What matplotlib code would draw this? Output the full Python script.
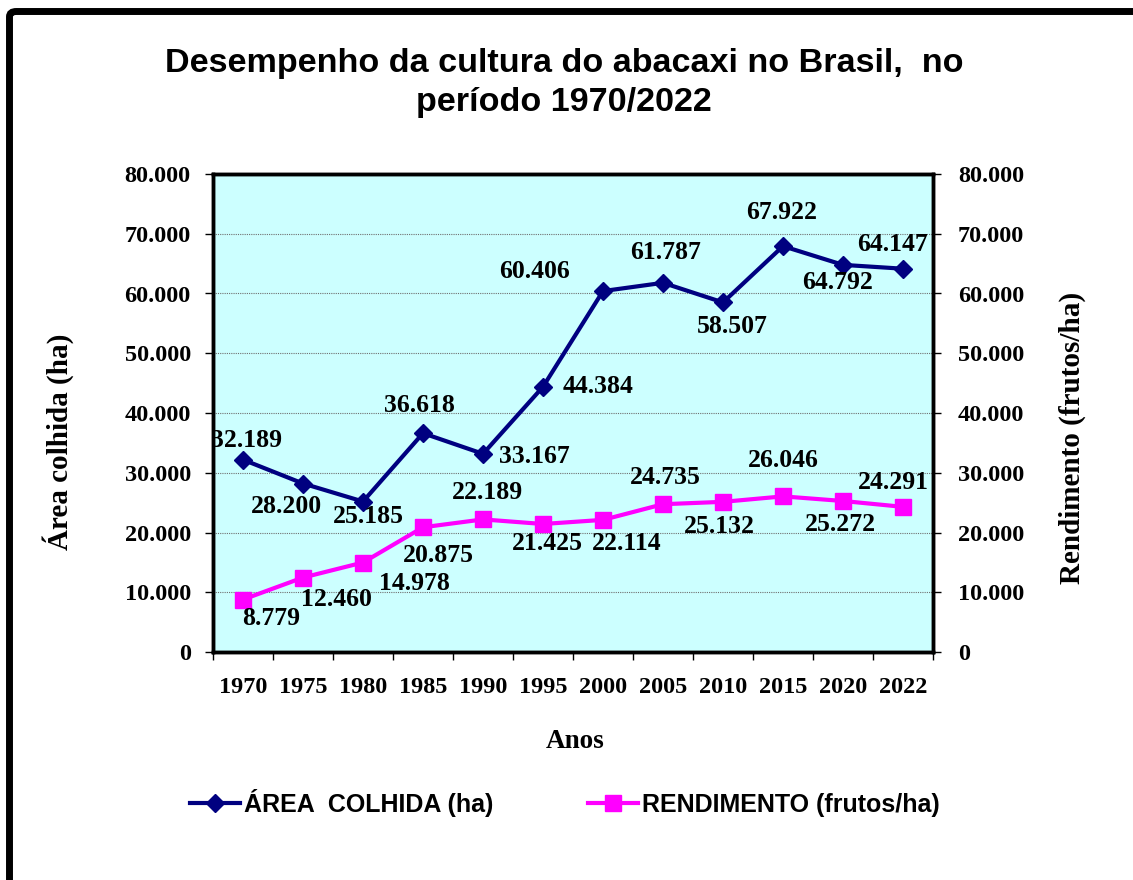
import matplotlib
matplotlib.use("Agg")
import matplotlib.pyplot as plt
from matplotlib.patches import FancyBboxPatch
from matplotlib.ticker import FuncFormatter, FixedLocator
import numpy as np

anos = ["1970", "1975", "1980", "1985", "1990", "1995", "2000", "2005", "2010", "2015", "2020", "2022"]
area_colhida = [32189, 28200, 25185, 36618, 33167, 44384, 60406, 61787, 58507, 67922, 64792, 64147]
rendimento = [8779, 12460, 14978, 20875, 22189, 21425, 22114, 24735, 25132, 26046, 25272, 24291]

# label offsets (pixels) relative to points
area_off = [(4, 19), (-17, -23), (5, -15), (-4, 28), (51, -3), (55, 0),
            (-69, 20), (3, 30), (9, -24), (-1, 34), (-5, -18), (-10, 24)]
rend_off = [(28, -19), (33, -22), (51, -21), (15, -28), (4, 27), (4, -20),
            (24, -24), (2, 27), (-4, -25), (0, 36), (-3, -24), (-10, 24)]

W, H = 1133, 880
fig = plt.figure(figsize=(W / 100, H / 100), dpi=100)
fig.patch.set_facecolor("white")

serif = ["Liberation Serif", "DejaVu Serif"]
sans = ["Liberation Sans", "DejaVu Sans"]

# outer frame
frame = FancyBboxPatch((9.5 / W, -0.2), 1.3, 1.2 - 11.5 / H,
                       boxstyle="round,pad=0,rounding_size=0.006",
                       transform=fig.transFigure, facecolor="none",
                       edgecolor="black", linewidth=5.0, zorder=0)
fig.patches.append(frame)

left, right, top, bottom = 213 / W, 933 / W, 1 - 174 / H, 1 - 652 / H
ax = fig.add_axes([left, bottom, right - left, top - bottom])
ax.set_facecolor("#CCFFFF")

x = np.arange(len(anos))
ax.plot(x, area_colhida, color="#000080", lw=3.0, marker="D", ms=9.5,
        markerfacecolor="#000080", markeredgecolor="#000080", zorder=3,
        label="ÁREA  COLHIDA (ha)")
ax.plot(x, rendimento, color="#FF00FF", lw=3.0, marker="s", ms=11,
        markerfacecolor="#FF00FF", markeredgecolor="#FF00FF", zorder=3,
        label="RENDIMENTO (frutos/ha)")

def fmt(v):
    return f"{v:,.0f}".replace(",", ".")

for xi, v, off in zip(x, area_colhida, area_off):
    ax.annotate(fmt(v), (xi, v), xytext=off, textcoords="offset pixels",
                ha="center", va="center", fontsize=18.5, fontweight="bold",
                family=serif, zorder=4, annotation_clip=False)
for xi, v, off in zip(x, rendimento, rend_off):
    ax.annotate(fmt(v), (xi, v), xytext=off, textcoords="offset pixels",
                ha="center", va="center", fontsize=18.5, fontweight="bold",
                family=serif, zorder=4, annotation_clip=False)

ax.set_xlim(-0.5, len(anos) - 0.5)
ax.set_ylim(0, 80000)
yt = np.arange(0, 80001, 10000)
ax.set_yticks(yt)
ax.yaxis.set_major_formatter(FuncFormatter(lambda v, p: fmt(v)))
ax.grid(axis="y", color="#707070", linestyle=(0, (1, 1)), lw=0.8)
ax.set_axisbelow(True)

ax.xaxis.set_major_locator(FixedLocator(np.arange(-0.5, len(anos), 1.0)))
ax.xaxis.set_minor_locator(FixedLocator(x))
ax.set_xticklabels([])
ax.set_xticklabels(anos, minor=True)
ax.tick_params(axis="x", which="major", length=6, width=1, direction="out")
ax.tick_params(axis="x", which="minor", length=0, pad=18)
ax.tick_params(axis="y", length=6, width=1, direction="out", pad=10)
for lbl in ax.get_xticklabels(minor=True) + ax.get_yticklabels():
    lbl.set_fontfamily(serif)
    lbl.set_fontweight("bold")
    lbl.set_fontsize(17.5)
for s in ax.spines.values():
    s.set_linewidth(2.5)

ax2 = ax.twinx()
ax2.set_ylim(0, 80000)
ax2.set_yticks(yt)
ax2.yaxis.set_major_formatter(FuncFormatter(lambda v, p: fmt(v)))
ax2.tick_params(axis="y", length=6, width=1, direction="out", pad=12)
for lbl in ax2.get_yticklabels():
    lbl.set_fontfamily(serif)
    lbl.set_fontweight("bold")
    lbl.set_fontsize(17.5)
for s in ax2.spines.values():
    s.set_linewidth(2.5)

fig.text(564 / W, 1 - 83 / H, "Desempenho da cultura do abacaxi no Brasil,  no\nperíodo 1970/2022",
         ha="center", va="center", fontsize=24.6, fontweight="bold", family=sans,
         linespacing=1.35)
fig.text(58 / W, 1 - 442 / H, "Área colhida (ha)", rotation=90, ha="center", va="center",
         fontsize=21, fontweight="bold", family=serif)
fig.text(1072 / W, 1 - 438 / H, "Rendimento (frutos/ha)", rotation=90, ha="center", va="center",
         fontsize=21, fontweight="bold", family=serif)
fig.text(575 / W, 1 - 741 / H, "Anos", ha="center", va="center",
         fontsize=19.5, fontweight="bold", family=serif)

h1, l1 = ax.get_legend_handles_labels()
leg = fig.legend(h1, l1, loc="center", bbox_to_anchor=(565 / W, 1 - 803 / H), ncol=2,
                 frameon=False, prop={"family": sans, "weight": "bold", "size": 18},
                 handlelength=2.0, handletextpad=0.15, columnspacing=3.8)

fig.savefig("out.png", dpi=100)
